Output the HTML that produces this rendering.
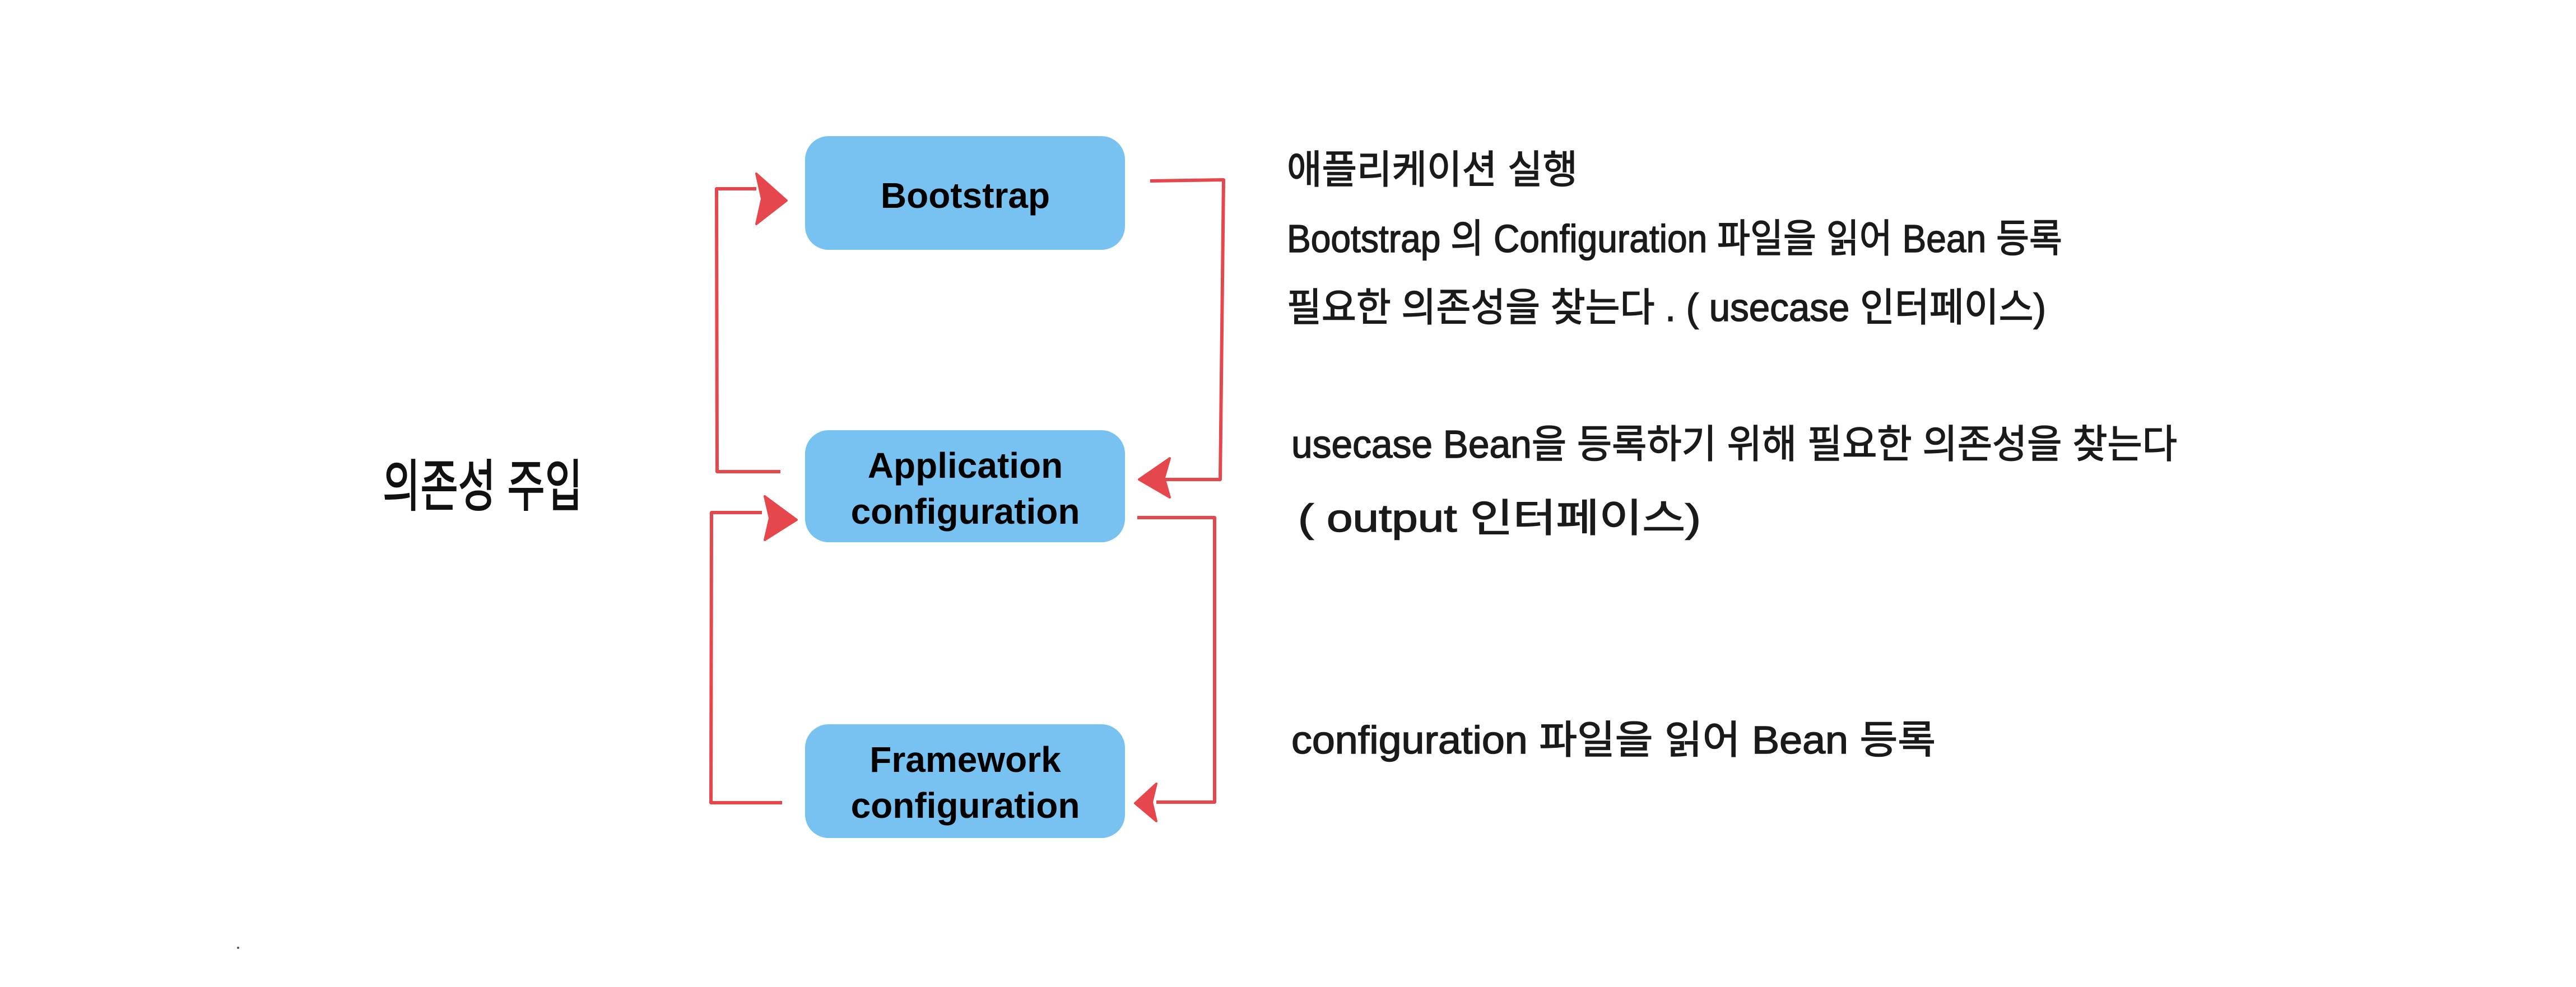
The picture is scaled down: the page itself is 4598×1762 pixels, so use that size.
<!DOCTYPE html>
<html><head><meta charset="utf-8">
<style>
html,body{margin:0;padding:0;background:#fff;}
svg{display:block;}
</style></head>
<body>
<svg width="4598" height="1762" viewBox="0 0 4598 1762" xmlns="http://www.w3.org/2000/svg">
<rect width="4598" height="1762" fill="#fff"/>
<g fill="#77c2f0">
<rect x="1437" y="243" width="571" height="203" rx="42" ry="42"/>
<rect x="1437" y="768" width="571" height="200" rx="42" ry="42"/>
<rect x="1437" y="1293" width="571" height="203" rx="42" ry="42"/>
</g>
<g font-family="'Liberation Sans', sans-serif" font-weight="bold" font-size="64" fill="#000" text-anchor="middle">
<text x="1723" y="371">Bootstrap</text>
<text x="1723" y="853">Application</text>
<text x="1723" y="935">configuration</text>
<text x="1723" y="1378">Framework</text>
<text x="1723" y="1460">configuration</text>
</g>
<g stroke="#e5474d" stroke-width="6" fill="none" stroke-linejoin="round">
<polyline points="1393,842 1280,842 1279,337 1350,337"/>
<polyline points="1396,1433 1269,1433 1270,915 1360,915"/>
<polyline points="2053,323 2184,321 2178,856 2070,856"/>
<polyline points="2030,924 2168,924 2168,1432 2064,1432"/>
</g>
<g fill="#e5474d" stroke="#e5474d" stroke-width="4" stroke-linejoin="round">
<polygon points="1350,310 1404,358 1350,400 1360,355"/>
<polygon points="1365,886 1422,928 1365,964 1374,925"/>
<polygon points="2088,818 2033,856 2088,888 2078,853"/>
<polygon points="2064,1399 2026,1434 2064,1466 2056,1432"/>
</g>
<g font-family="'Liberation Sans', 'Noto Sans CJK KR', 'NanumGothic', sans-serif" font-size="70" fill="#1a1a1a" stroke="#1a1a1a" stroke-width="1.5">
<text x="2297" y="327" textLength="519" lengthAdjust="spacingAndGlyphs">애플리케이션 실행</text>
<text x="2297" y="450" textLength="1384" lengthAdjust="spacingAndGlyphs">Bootstrap 의 Configuration 파일을 읽어 Bean 등록</text>
<text x="2297" y="573" textLength="1355" lengthAdjust="spacingAndGlyphs">필요한 의존성을 찾는다 . ( usecase 인터페이스)</text>
<text x="2305" y="817" textLength="1581" lengthAdjust="spacingAndGlyphs">usecase Bean을 등록하기 위해 필요한 의존성을 찾는다</text>
<text x="2317" y="949" textLength="719" lengthAdjust="spacingAndGlyphs">( output  인터페이스)</text>
<text x="2305" y="1345" textLength="1150" lengthAdjust="spacingAndGlyphs">configuration 파일을 읽어 Bean 등록</text>
</g>
<text x="683" y="903" font-family="'Liberation Sans', 'Noto Sans CJK KR', sans-serif" font-size="100" fill="#111" stroke="#111" stroke-width="2" textLength="357" lengthAdjust="spacingAndGlyphs">의존성 주입</text>
<circle cx="425" cy="1692" r="2" fill="#555"/>
</svg>
</body></html>
